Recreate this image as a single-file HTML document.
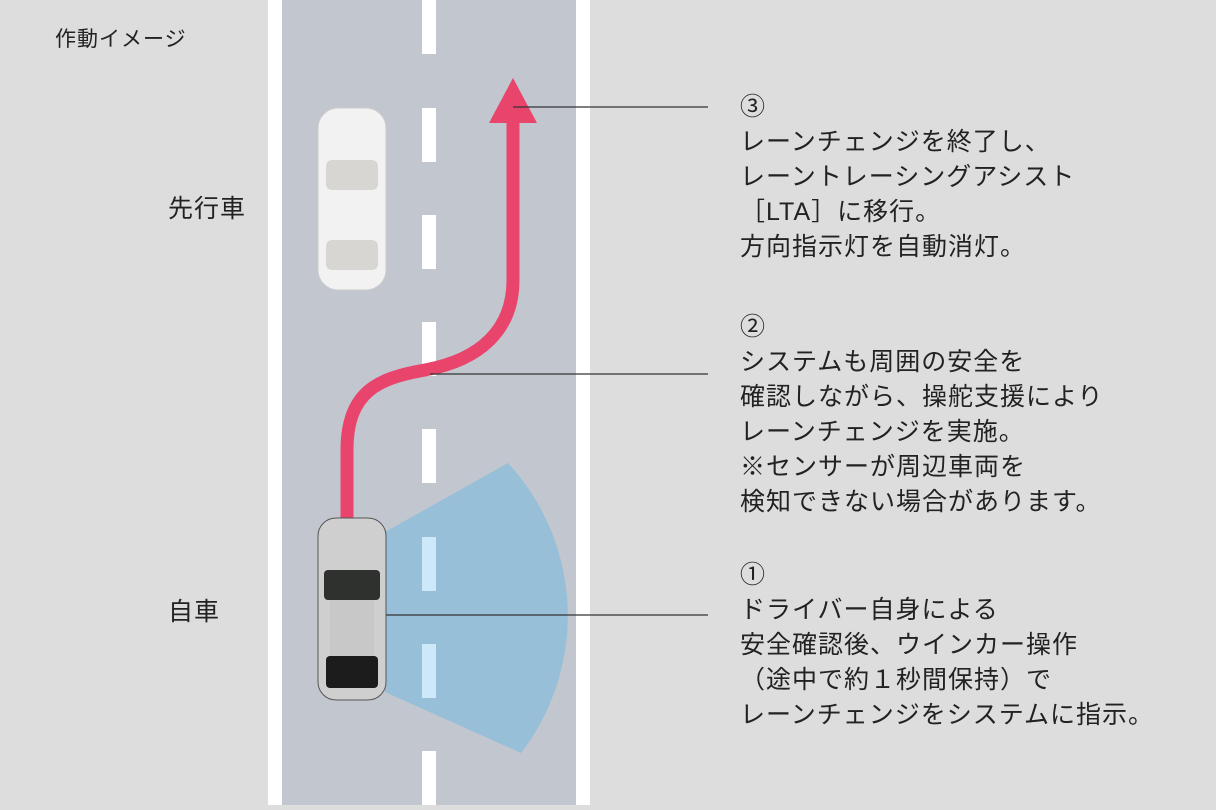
<!DOCTYPE html>
<html><head><meta charset="utf-8"><style>
body{margin:0;width:1216px;height:810px;background:#dddddd;overflow:hidden;position:relative;font-family:"Liberation Sans","Noto Sans CJK JP",sans-serif;color:#222}
.t{position:absolute;font-size:25px;line-height:35px;white-space:nowrap;letter-spacing:1px}
</style></head><body>
<svg width="1216" height="810" style="position:absolute;left:0;top:0">
<rect x="268" y="0" width="322" height="805" fill="#fff"/>
<rect x="282" y="0" width="294" height="805" fill="#c2c6cf"/>
<g fill="#fff">
<rect x="422" y="0" width="14" height="54"/><rect x="422" y="108" width="14" height="54"/>
<rect x="422" y="215" width="14" height="54"/><rect x="422" y="322" width="14" height="54"/>
<rect x="422" y="429" width="14" height="54"/><rect x="422" y="644" width="14" height="54"/>
<rect x="422" y="751" width="14" height="54"/><rect x="422" y="537" width="14" height="54"/>
</g>
<path d="M385,532 L508,463 A225,225 0 0 1 521,753 L385,692 Z" fill="#8fbdd8" opacity="0.85"/>
<rect x="422" y="537" width="14" height="54" fill="#cde8f8"/>
<rect x="422" y="644" width="14" height="54" fill="#cde8f8"/>
<path d="M347,520 L347,450 C347,390 380,378 425,370 C480,360 513,330 513,280 L513,118" fill="none" stroke="#e8446c" stroke-width="13"/>
<polygon points="489,123 513,78 537,123" fill="#e8446c"/>
<g stroke="#333" stroke-width="1.2">
<line x1="513" y1="107" x2="708" y2="107"/>
<line x1="430" y1="374" x2="708" y2="374"/>
<line x1="385" y1="615" x2="708" y2="615"/>
</g>
<rect x="318" y="108" width="68" height="182" rx="20" fill="#f2f2f2" stroke="#ccc"/>
<rect x="326" y="160" width="52" height="30" rx="6" fill="#d8d6d2"/>
<rect x="326" y="240" width="52" height="30" rx="6" fill="#d8d6d2"/>
<rect x="318" y="518" width="68" height="182" rx="18" fill="#cfcfcf" stroke="#555"/>
<rect x="324" y="570" width="56" height="30" rx="4" fill="#2e312e"/>
<rect x="330" y="600" width="44" height="60" fill="#c8c8c8"/>
<rect x="326" y="656" width="52" height="32" rx="4" fill="#1c1c1c"/>
</svg>
<div class="t" style="left:55px;top:22px;font-size:21px;letter-spacing:1px">作動イメージ</div>
<div class="t" style="left:168px;top:192px">先行車</div>
<div class="t" style="left:168px;top:595px">自車</div>
<div class="t" style="left:740px;top:90px">③<br>レーンチェンジを終了し、<br>レーントレーシングアシスト<br>［LTA］に移行。<br>方向指示灯を自動消灯。</div>
<div class="t" style="left:740px;top:310px">②<br>システムも周囲の安全を<br>確認しながら、操舵支援により<br>レーンチェンジを実施。<br>※センサーが周辺車両を<br>検知できない場合があります。</div>
<div class="t" style="left:740px;top:558px">①<br>ドライバー自身による<br>安全確認後、ウインカー操作<br>（途中で約１秒間保持）で<br>レーンチェンジをシステムに指示。</div>
</body></html>
